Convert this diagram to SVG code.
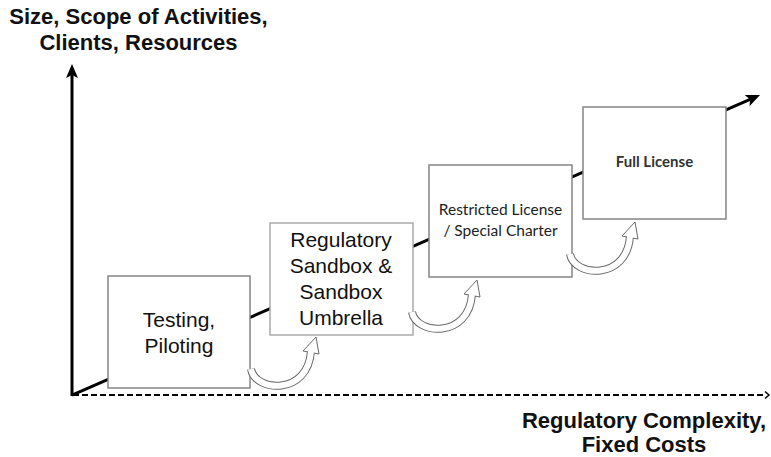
<svg xmlns="http://www.w3.org/2000/svg" width="771" height="457" viewBox="0 0 771 457">
<style>
.axis{stroke:#000;stroke-width:3;fill:none}
.box{fill:#fff;stroke:#858585;stroke-width:1.5}
.t1{font-family:"Liberation Sans",Arial,sans-serif;font-size:21px;fill:#111;text-anchor:middle}
.t2{font-family:Lato,"Liberation Sans",sans-serif;font-size:15.5px;fill:#222;text-anchor:middle}
.lab{font-family:"Liberation Sans",Arial,sans-serif;font-size:22px;font-weight:bold;fill:#111;text-anchor:middle}
</style>
<defs>
<marker id="head" markerUnits="userSpaceOnUse" viewBox="0 0 14 12" refX="5" refY="6" markerWidth="14" markerHeight="12" orient="auto">
<path d="M0,0 L14,6 L0,12 L3,6 z" fill="#000"/>
</marker>
<g id="curve">
<path d="M0,0 C4,23 57,27 60,-18" fill="none" stroke="#6a6a6a" stroke-width="8"/>
<polygon points="52,-18 68,-15 65,-32" fill="#fff" stroke="#6a6a6a" stroke-width="1"/>
<path d="M0,0 C4,23 57,27 60,-18" fill="none" stroke="#fff" stroke-width="6"/>
</g>
</defs>
<rect width="771" height="457" fill="#fff"/>
<g id="labels">
<text class="lab" x="138.5" y="24">Size, Scope of Activities,</text>
<text class="lab" x="138.5" y="50">Clients, Resources</text>
<text class="lab" x="644" y="428">Regulatory Complexity,</text>
<text class="lab" x="644" y="452">Fixed Costs</text>
</g>
<g id="axes">
<line class="axis" x1="72" y1="396" x2="72" y2="73" marker-end="url(#head)"/>
<line x1="73" y1="395" x2="766" y2="395" stroke="#000" stroke-width="2" stroke-dasharray="6 3"/>
<path d="M765,391.5 L769,395 L765,398.5" fill="none" stroke="#000" stroke-width="1.5"/>
</g>
<g id="connectors">
<line class="axis" x1="72" y1="395" x2="751.8" y2="98.6" marker-end="url(#head)"/>
</g>
<g id="node-testing">
<rect class="box" x="108" y="276" width="142" height="112"/>
<text class="t1" x="179" y="327">Testing,</text>
<text class="t1" x="179" y="353">Piloting</text>
</g>
<g id="node-sandbox">
<rect class="box" x="270" y="223" width="143" height="112" style="stroke:#aaa"/>
<text class="t1" x="341" y="247">Regulatory</text>
<text class="t1" x="341" y="273">Sandbox &amp;</text>
<text class="t1" x="341" y="299">Sandbox</text>
<text class="t1" x="341" y="325">Umbrella</text>
</g>
<g id="node-restricted">
<rect class="box" x="429" y="165" width="143" height="112"/>
<text class="t2" x="500.5" y="215">Restricted License</text>
<text class="t2" x="500.5" y="236">/ Special Charter</text>
</g>
<g id="node-full">
<rect class="box" x="583" y="107" width="143" height="112"/>
<text class="t2" x="654.5" y="167" style="fill:#333;font-weight:bold;font-size:15px">Full License</text>
</g>
<g id="transitions">
<use href="#curve" transform="translate(251,369)"/>
<use href="#curve" transform="translate(412,312)"/>
<use href="#curve" transform="translate(570,254)"/>
</g>
</svg>
